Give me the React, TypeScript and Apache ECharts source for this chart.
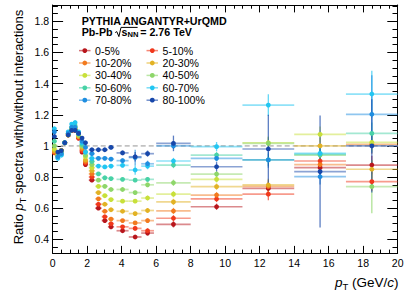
import { useEffect, useRef } from "react";
import * as echarts from "echarts";

const W = 407;
const H = 293;
const FONT = '"Liberation Sans", Arial, Helvetica, sans-serif';

// pT bin centres and half widths (GeV/c)
const ptCenters = [0.1, 0.3, 0.5, 0.7, 0.9, 1.1, 1.3, 1.5, 1.7, 1.9, 2.27, 2.65, 3.02, 3.38, 4.05, 4.78, 5.5, 7, 9.5, 12.5, 15.5, 18.5];
const ptHalfWidths = [0.1, 0.1, 0.1, 0.1, 0.1, 0.1, 0.1, 0.1, 0.1, 0.1, 0.18, 0.19, 0.18, 0.18, 0.35, 0.37, 0.37, 1, 1.5, 1.5, 1.5, 1.5];

const centralityClasses = ["0-5%", "5-10%", "10-20%", "20-30%", "30-40%", "40-50%", "50-60%", "60-70%", "70-80%", "80-100%"];
const classColors = ["#b8161c", "#f0381c", "#f27a1e", "#e2b224", "#c8e03a", "#8ed66a", "#48d2a6", "#22c6f2", "#1f8ee0", "#1747aa"];

const ratio0to5 = [0.96, 0.94, 0.97, 1.02, 1.07, 1.1, 1.1, 1.05, 0.96, 0.88, 0.78, 0.6, 0.52, 0.48, 0.455, 0.415, 0.44, 0.496, 0.609, 0.727, 0.86, 0.877];
const ratio5to10 = [0.955, 0.94, 0.97, 1.02, 1.07, 1.1, 1.1, 1.05, 0.97, 0.89, 0.8, 0.625, 0.545, 0.5, 0.48, 0.47, 0.455, 0.535, 0.659, 0.69, 0.903, 0.77];
const ratio10to20 = [0.96, 0.94, 0.97, 1.02, 1.07, 1.1, 1.1, 1.06, 0.98, 0.9, 0.82, 0.66, 0.58, 0.53, 0.52, 0.505, 0.52, 0.582, 0.684, 0.74, 0.88, 1.01];
const ratio20to30 = [0.97, 0.94, 0.97, 1.02, 1.07, 1.1, 1.11, 1.06, 0.99, 0.91, 0.84, 0.7, 0.625, 0.59, 0.58, 0.565, 0.585, 0.64, 0.738, 0.749, 1.0, 0.85];
const ratio30to40 = [0.98, 0.94, 0.97, 1.02, 1.07, 1.11, 1.11, 1.07, 1.0, 0.93, 0.86, 0.74, 0.68, 0.655, 0.645, 0.645, 0.665, 0.69, 0.785, 1.02, 1.074, 1.023];
const ratio40to50 = [1.0, 0.94, 0.96, 1.02, 1.08, 1.11, 1.12, 1.07, 1.0, 0.94, 0.88, 0.78, 0.74, 0.72, 0.72, 0.7, 0.75, 0.763, 0.819, 1.016, 0.941, 0.738];
const ratio50to60 = [1.03, 0.93, 0.95, 1.02, 1.08, 1.12, 1.13, 1.08, 1.01, 0.96, 0.9, 0.82, 0.795, 0.79, 0.785, 0.78, 0.785, 0.877, 0.941, 0.91, 0.945, 1.08];
const ratio60to70 = [1.11, 0.92, 0.94, 1.02, 1.09, 1.14, 1.15, 1.09, 1.02, 0.96, 0.92, 0.87, 0.865, 0.87, 0.875, 0.845, 0.87, 0.903, 0.995, 1.262, 0.952, 1.333];
const ratio70to80 = [1.09, 0.93, 0.95, 1.02, 1.08, 1.12, 1.12, 1.08, 1.03, 0.99, 0.95, 0.92, 0.92, 0.915, 0.905, 0.925, 0.885, 1.0, 0.92, 0.91, 0.802, 1.203];
const ratio80to100 = [1.06, 0.96, 0.97, 1.02, 1.07, 1.1, 1.1, 1.08, 1.05, 1.02, 0.975, 0.975, 0.975, 0.99, 0.955, 0.93, 0.95, 1.016, 0.866, 0.98, 0.835, 1.0];

const err0to5 = [0, 0, 0, 0, 0, 0, 0, 0, 0, 0, 0.01, 0.01, 0.01, 0.01, 0.01, 0.012, 0.015, 0.02, 0.02, 0.04, 0.05, 0.06];
const err5to10 = [0, 0, 0, 0, 0, 0, 0, 0, 0, 0, 0.01, 0.01, 0.01, 0.01, 0.01, 0.012, 0.015, 0.02, 0.02, 0.04, 0.05, 0.06];
const err10to20 = [0, 0, 0, 0, 0, 0, 0, 0, 0, 0, 0.01, 0.01, 0.01, 0.01, 0.01, 0.012, 0.015, 0.02, 0.02, 0.04, 0.05, 0.06];
const err20to30 = [0, 0, 0, 0, 0, 0, 0, 0, 0, 0, 0.01, 0.01, 0.01, 0.01, 0.01, 0.012, 0.015, 0.02, 0.02, 0.04, 0.05, 0.06];
const err30to40 = [0, 0, 0, 0, 0, 0, 0, 0, 0, 0, 0.01, 0.01, 0.01, 0.01, 0.01, 0.012, 0.015, 0.02, 0.02, 0.04, 0.05, 0.06];
const err40to50 = [0, 0, 0, 0, 0, 0, 0, 0, 0, 0, 0.01, 0.01, 0.01, 0.01, 0.01, 0.012, 0.015, 0.02, 0.02, 0.04, 0.05, 0.17];
const err50to60 = [0, 0, 0, 0, 0, 0, 0, 0, 0, 0, 0.01, 0.01, 0.01, 0.01, 0.01, 0.012, 0.015, 0.02, 0.02, 0.04, 0.05, 0.07];
const err60to70 = [0, 0, 0, 0, 0, 0, 0, 0, 0, 0, 0.01, 0.01, 0.01, 0.01, 0.012, 0.03, 0.02, 0.02, 0.03, 0.07, 0.05, 0.15];
const err70to80 = [0, 0, 0, 0, 0, 0, 0, 0, 0, 0, 0.01, 0.01, 0.01, 0.012, 0.015, 0.05, 0.02, 0.02, 0.02, 0.05, 0.05, 0.25];
const err80to100 = [0, 0, 0, 0, 0, 0, 0, 0, 0, 0, 0.01, 0.01, 0.01, 0.012, 0.015, 0.03, 0.02, 0.05, 0.03, 0.22, 0.36, 0.3];

const ratioSets = [ratio0to5, ratio5to10, ratio10to20, ratio20to30, ratio30to40, ratio40to50, ratio50to60, ratio60to70, ratio70to80, ratio80to100];
const errSets = [err0to5, err5to10, err10to20, err20to30, err30to40, err40to50, err50to60, err60to70, err70to80, err80to100];

const xTickLabels = [0, 2, 4, 6, 8, 10, 12, 14, 16, 18, 20];
const yMajorTicks = [0.4, 0.6, 0.8, 1, 1.2, 1.4, 1.6, 1.8];
const yMinorTicks = [0.35, 0.45, 0.5, 0.55, 0.65, 0.7, 0.75, 0.85, 0.9, 0.95, 1.05, 1.1, 1.15, 1.25, 1.3, 1.35, 1.45, 1.5, 1.55, 1.65, 1.7, 1.75, 1.85, 1.9];
const yRange = [0.31, 1.905];
const xRange = [0, 20];

export default function App() {
  const ref = useRef<HTMLDivElement>(null);

  useEffect(() => {
    if (!ref.current) return;
    const chart = echarts.init(ref.current, undefined, { renderer: "svg", width: W, height: H });

    const gridRect = { left: 52.7, right: 9.3, top: 5, bottom: 39.7, containLabel: false, outerBoundsMode: "none" };
    const black = { color: "#000", width: 1 };

    const xBase = (pos: string, labels: boolean) => ({
      type: "value",
      gridIndex: 0,
      position: pos,
      min: xRange[0],
      max: xRange[1],
      interval: 2,
      axisLine: { show: true, onZero: false, lineStyle: black },
      axisTick: { show: true, inside: true, length: 7.4, lineStyle: black },
      minorTick: { show: true, splitNumber: 4, length: 3.7, lineStyle: black },
      splitLine: { show: false },
      minorSplitLine: { show: false },
      axisLabel: {
        show: labels,
        color: "#000",
        fontSize: 10.5,
        fontFamily: FONT,
        margin: 4.5,
        formatter: (v: number) => (xTickLabels.includes(v) ? String(v) : ""),
      },
    });

    const yMajor = (pos: string, labels: boolean) => ({
      type: "value",
      gridIndex: 0,
      position: pos,
      min: yRange[0],
      max: yRange[1],
      axisLine: { show: true, onZero: false, lineStyle: black },
      axisTick: { show: true, inside: true, length: 10.4, lineStyle: black, customValues: yMajorTicks },
      splitLine: { show: false },
      axisLabel: {
        show: labels,
        customValues: yMajorTicks,
        color: "#000",
        fontSize: 10.5,
        fontFamily: FONT,
        margin: 3.5,
        formatter: (v: number) => (Math.abs(v - 1) < 1e-9 ? "1" : String(Math.round(v * 10) / 10)),
      },
    });

    const yMinor = (pos: string) => ({
      type: "value",
      gridIndex: 1,
      position: pos,
      min: yRange[0],
      max: yRange[1],
      axisLine: { show: false },
      axisTick: { show: true, inside: true, length: 5.2, lineStyle: black, customValues: yMinorTicks },
      splitLine: { show: false },
      axisLabel: { show: false },
    });

    const series: any[] = [
      {
        type: "line",
        xAxisIndex: 0,
        yAxisIndex: 0,
        data: [
          [xRange[0], 1],
          [xRange[1], 1],
        ],
        symbol: "none",
        silent: true,
        lineStyle: { color: "#c2c2c2", width: 1.6, type: [5, 3] },
        z: 1,
      },
    ];

    ratioSets.forEach((vals, i) => {
      const color = classColors[i];
      series.push({
        type: "custom",
        name: centralityClasses[i] + " err",
        xAxisIndex: 0,
        yAxisIndex: 0,
        data: vals.map((v, k) => [ptCenters[k], v, ptHalfWidths[k], errSets[i][k]]),
        encode: { x: 0, y: 1 },
        silent: true,
        renderItem: (_p: any, api: any) => {
          const x = api.value(0);
          const y = api.value(1);
          const hw = api.value(2);
          const e = api.value(3);
          const l = api.coord([x - hw, y]);
          const r = api.coord([x + hw, y]);
          const t = api.coord([x, y + e]);
          const b = api.coord([x, y - e]);
          const children: any[] = [
            { type: "line", shape: { x1: l[0], y1: l[1], x2: r[0], y2: r[1] }, style: { stroke: color, lineWidth: 1.7, opacity: 0.5 } },
          ];
          if (e > 0) {
            children.push({ type: "line", shape: { x1: t[0], y1: t[1], x2: b[0], y2: b[1] }, style: { stroke: color, lineWidth: 1.3, opacity: 0.7 } });
          }
          return { type: "group", children };
        },
      });
      series.push({
        type: "scatter",
        name: centralityClasses[i],
        xAxisIndex: 0,
        yAxisIndex: 0,
        data: vals.map((v, k) => [ptCenters[k], v]),
        symbol: "circle",
        symbolSize: 4.8,
        itemStyle: { color, opacity: 1 },
        silent: true,
      });
    });

    const graphics: any[] = [];
    const txt = (text: string, x: number, y: number, size: number, weight = "normal", align = "left") => ({
      type: "text",
      x,
      y,
      style: {
        text,
        fill: "#000",
        fontSize: size,
        fontFamily: FONT,
        fontWeight: weight,
        align,
        textAlign: align,
        verticalAlign: "middle",
        textVerticalAlign: "middle",
      },
    });

    graphics.push(txt("PYTHIA ANGANTYR+UrQMD", 81.7, 20.7, 10.7, "bold"));
    graphics.push(txt("Pb-Pb", 81.7, 31.9, 10.7, "bold"));
    graphics.push({
      type: "polyline",
      shape: { points: [[115.2, 32.6], [116.8, 31.6], [118.9, 36.6], [121, 27.4], [137.6, 27.4]] },
      style: { stroke: "#000", lineWidth: 1, fill: "none" },
    });
    graphics.push(txt("s", 121.6, 31.9, 10.7, "bold"));
    graphics.push(txt("NN", 127.6, 34.8, 7.6, "bold"));
    graphics.push(txt("= 2.76 TeV", 140.2, 31.9, 10.7, "bold"));

    centralityClasses.forEach((name, i) => {
      const col = i % 2;
      const row = Math.floor(i / 2);
      const y = 50.6 + row * 12.4;
      const x0 = col === 0 ? 79 : 146.5;
      const color = classColors[i];
      graphics.push({
        type: "line",
        shape: { x1: x0, y1: y, x2: x0 + 11.5, y2: y },
        style: { stroke: color, lineWidth: 1.5, opacity: 0.6 },
      });
      graphics.push({ type: "circle", shape: { cx: x0 + 5.8, cy: y, r: 2.4 }, style: { fill: color } });
      graphics.push(txt(name, x0 + 16, y, 10.6));
    });

    graphics.push({
      type: "text",
      x: 398.5,
      y: 282.5,
      style: {
        text: "{i|p}{s|T} (GeV/{i|c})",
        fill: "#000",
        fontSize: 13.5,
        fontFamily: FONT,
        lineHeight: 18,
        align: "right",
        textAlign: "right",
        verticalAlign: "middle",
        textVerticalAlign: "middle",
        rich: {
          i: { fontStyle: "italic", fontSize: 13.5, fontFamily: FONT, lineHeight: 18, fill: "#000" },
          s: { fontSize: 9.5, fontFamily: FONT, lineHeight: 6, verticalAlign: "bottom", fill: "#000" },
        },
      },
    });

    graphics.push({
      type: "text",
      x: 18.5,
      y: 127,
      rotation: Math.PI / 2,
      style: {
        text: "Ratio {i|p}{s|T} spectra with/without interactions",
        fill: "#000",
        fontSize: 13,
        fontFamily: FONT,
        lineHeight: 18,
        align: "center",
        textAlign: "center",
        verticalAlign: "middle",
        textVerticalAlign: "middle",
        rich: {
          i: { fontStyle: "italic", fontSize: 13, fontFamily: FONT, lineHeight: 18, fill: "#000" },
          s: { fontSize: 9.2, fontFamily: FONT, lineHeight: 6, verticalAlign: "bottom", fill: "#000" },
        },
      },
    });

    const option: any = {
      animation: false,
      backgroundColor: "#fff",
      grid: [gridRect, { ...gridRect }],
      xAxis: [xBase("bottom", true), xBase("top", false), { type: "value", gridIndex: 1, min: xRange[0], max: xRange[1], show: false }],
      yAxis: [yMajor("left", true), yMajor("right", false), yMinor("left"), yMinor("right")],
      series,
      graphic: { elements: graphics },
    };

    chart.setOption(option);
    return () => chart.dispose();
  }, []);

  return <div ref={ref} style={{ position: "fixed", left: 0, top: 0, width: W, height: H, background: "#fff" }} />;
}
